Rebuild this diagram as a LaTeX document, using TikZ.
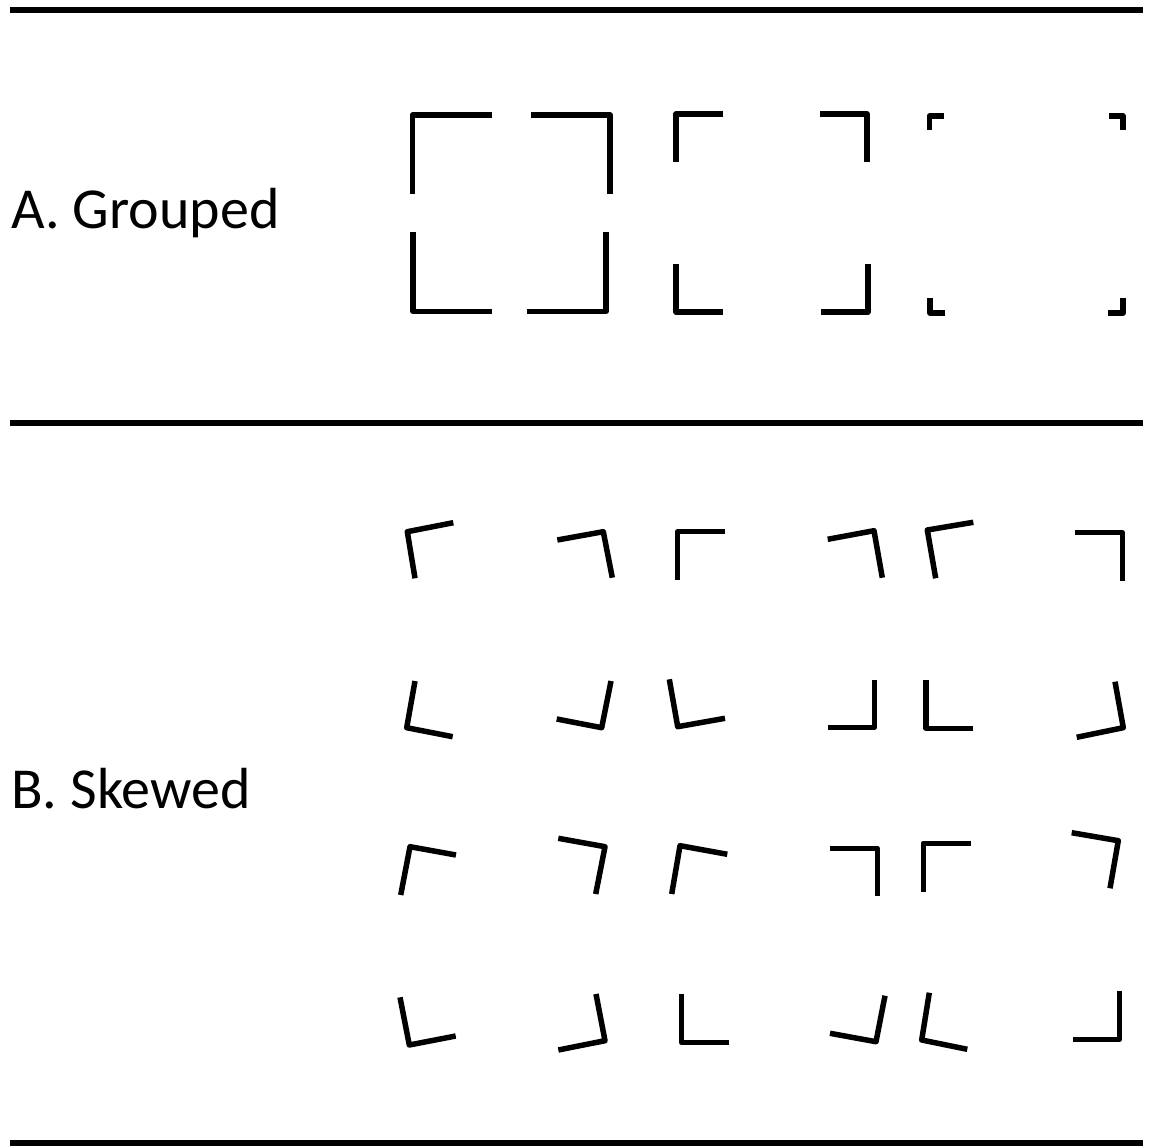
\documentclass[tikz,border=0pt]{standalone}
\usepackage{fontspec}
\setmainfont{Carlito}
\begin{document}
\begin{tikzpicture}[x=1pt,y=-1pt,
  rule/.style={line width=5.5pt},
  bracket/.style={line width=5.5pt, line join=round, line cap=butt},
  lbl/.style={anchor=base west, inner sep=0pt, font=\fontsize{58}{70}\selectfont}]
\useasboundingbox (0,0) rectangle (1152,1147);
% rules
\coordinate (r1a) at (10,10);   \coordinate (r1b) at (1143,10);
\coordinate (r2a) at (10,423);  \coordinate (r2b) at (1143,423);
\coordinate (r3a) at (10,1143); \coordinate (r3b) at (1143,1143);
\draw[rule] (r1a) -- (r1b);
\draw[rule] (r2a) -- (r2b);
\draw[rule] (r3a) -- (r3b);
% labels
\node[lbl] (labA) at (11,229) {A. Grouped};
\node[lbl] (labB) at (11,808) {B. Skewed};
% ---- A: grouped ----
% group 1
\draw[bracket] (492,115) -- (412.5,115) -- (412.5,194);
\draw[bracket] (531,115) -- (610,115) -- (610,194);
\draw[bracket] (413,232) -- (413,311.5) -- (492,311.5);
\draw[bracket] (606,232) -- (606,311.5) -- (527,311.5);
% group 2
\draw[bracket] (723,114) -- (676,114) -- (676,162);
\draw[bracket] (820,114) -- (867,114) -- (867,162);
\draw[bracket] (676,264) -- (676,312) -- (723,312);
\draw[bracket] (868,264) -- (868,312) -- (821,312);
% group 3
\draw[bracket] (944,116) -- (929.5,116) -- (929.5,130);
\draw[bracket] (1109,116) -- (1123,116) -- (1123,130);
\draw[bracket] (930,298) -- (930,313) -- (945,313);
\draw[bracket] (1123,298) -- (1123,313) -- (1108,313);
% ---- B: skewed ----
% row 1, col 1
\draw[bracket] (453.3,522.7) -- (407.3,531.7) -- (415,578.3);
\draw[bracket] (557.3,540) -- (603.3,531.7) -- (612.3,577.7);
\draw[bracket] (415,681) -- (406.7,727.7) -- (452.7,736.7);
\draw[bracket] (611,681) -- (601.7,727.7) -- (556.7,719);
% row 1, col 2
\draw[bracket] (725,531.7) -- (677.7,531.7) -- (677.7,580);
\draw[bracket] (827.7,539.3) -- (874,530.7) -- (882.3,577.7);
\draw[bracket] (669.3,679.3) -- (677.7,726.7) -- (725,718.3);
\draw[bracket] (874.3,680) -- (874.3,727.3) -- (827.7,727.3);
% row 1, col 3
\draw[bracket] (973.3,522.3) -- (927.3,530) -- (935.7,578.3);
\draw[bracket] (1075,532.7) -- (1122.3,532.7) -- (1122.3,581);
\draw[bracket] (926,680) -- (926,728.3) -- (973.3,728.3);
\draw[bracket] (1115,681.7) -- (1123.3,727.7) -- (1076.7,737.3);
% row 2, col 1
\draw[bracket] (456,855) -- (410,846.7) -- (400.7,895);
\draw[bracket] (558.3,838.3) -- (605,846.7) -- (595.7,894);
\draw[bracket] (400,997.3) -- (409.3,1045) -- (455.7,1036);
\draw[bracket] (596,994) -- (605,1040.7) -- (558.3,1050);
% row 2, col 2
\draw[bracket] (727.3,854.3) -- (680,845.7) -- (671.7,894);
\draw[bracket] (830,848.3) -- (877.3,848.3) -- (877.3,896);
\draw[bracket] (681.7,994.3) -- (681.7,1042.7) -- (729.3,1042.7);
\draw[bracket] (885,995.7) -- (876,1041.7) -- (830,1033.3);
% row 2, col 3
\draw[bracket] (970.7,843.3) -- (923.3,843.3) -- (923.3,891.7);
\draw[bracket] (1071.7,832.7) -- (1118.3,840.7) -- (1110,888.3);
\draw[bracket] (929.3,992.7) -- (921.7,1040) -- (967.3,1049.3);
\draw[bracket] (1119.3,990.7) -- (1119.3,1039.3) -- (1072.7,1039.3);
\end{tikzpicture}
\end{document}
